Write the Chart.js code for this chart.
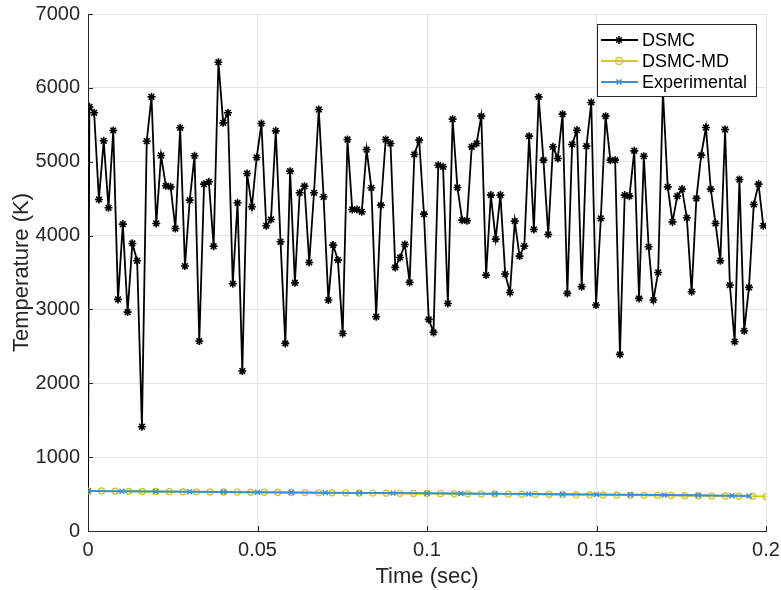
<!DOCTYPE html>
<html>
<head>
<meta charset="utf-8">
<script src="https://cdn.jsdelivr.net/npm/chart.js@4.4.1/dist/chart.umd.min.js"></script>
<style>
  html, body { margin: 0; padding: 0; background: #ffffff; }
  #wrap { width: 781px; height: 590px; }
</style>
</head>
<body>
<div id="wrap"><canvas id="c" width="781" height="590"></canvas></div>
<script>
// DSMC temperature history (K); first entry is the initial state at t = 0
const dsmcTemps = [
  540,
  5743, 5662, 4489, 5283, 4376, 5423, 3136, 4155, 2964, 3893,
  3659, 1412, 5278, 5878, 4164, 5084, 4674, 4660, 4096, 5459,
  3587, 4480, 5080, 2572, 4696, 4728, 3857, 6347, 5526, 5662,
  3348, 4444, 2166, 4841, 4390, 5057, 5517, 4132, 4218, 5418,
  3916, 2540, 4872, 3361, 4579, 4669, 3636, 4579, 5707, 4525,
  3127, 3871, 3668, 2675, 5301, 4353, 4353, 4322, 5165, 4647,
  2901, 4412, 5301, 5247, 3569, 3704, 3880, 3366, 5098, 5292,
  4290, 2865, 2689, 4953, 4931, 3081, 5576, 4651, 4209, 4200,
  5202, 5247, 5617, 3465, 4548, 3952, 4548, 3479, 3230, 4196,
  3722, 3857, 5346, 4083, 5878, 5021, 4015, 5202, 5044, 5644,
  3217, 5234, 5427, 3307, 5211, 5802, 3059, 4232, 5617, 5021,
  5021, 2391, 4548, 4534, 5147, 3149, 5075, 3848, 3127, 3501,
  5950, 4660, 4186, 4534, 4629, 4241, 3240, 4503, 5089, 5463,
  4629, 4164, 3659, 5436, 3330, 2563, 4759, 2711, 3298, 4421,
  4696, 4132
];
// sampling of the DSMC record after the initial state (s)
const dsmcFirstTime = 0.0004;
const dsmcTimeStep = 0.00141;

// DSMC-MD coupled result
const mdTimes = [
  0, 0.004, 0.008, 0.012, 0.016, 0.02, 0.024, 0.028, 0.032, 0.036,
  0.04, 0.044, 0.048, 0.052, 0.056, 0.06, 0.064, 0.068, 0.072, 0.076,
  0.08, 0.084, 0.088, 0.092, 0.096, 0.1, 0.104, 0.108, 0.112, 0.116,
  0.12, 0.124, 0.128, 0.132, 0.136, 0.14, 0.144, 0.148, 0.152, 0.156,
  0.16, 0.164, 0.168, 0.172, 0.176, 0.18, 0.184, 0.188, 0.192, 0.196, 0.2
];
const mdTemps = [
  540, 541, 538, 537, 535, 536, 533, 531, 530, 529,
  528, 526, 525, 524, 522, 521, 520, 519, 517, 516,
  515, 513, 512, 510, 509, 508, 506, 505, 503, 502,
  500, 499, 497, 496, 494, 493, 491, 490, 488, 487,
  485, 483, 482, 480, 478, 477, 475, 473, 471, 470, 468
];

// Experimental measurements
const expTimes = [
  0, 0.01, 0.02, 0.03, 0.04, 0.05, 0.06, 0.07, 0.08, 0.09,
  0.1, 0.11, 0.12, 0.13, 0.14, 0.15, 0.16, 0.17, 0.18, 0.19, 0.195
];
const expTemps = [
  540, 537, 534, 531, 528, 525, 522, 519, 516, 513,
  510, 507, 504, 500, 497, 494, 490, 487, 483, 478, 475
];

const xTickValues = [0, 0.05, 0.1, 0.15, 0.2];
const yTickValues = [0, 1000, 2000, 3000, 4000, 5000, 6000, 7000];

const seriesNames = ['DSMC', 'DSMC-MD', 'Experimental'];
const seriesColors = ['#000000', '#d4c92c', '#3b8fd9'];
const seriesMarkers = ['star', 'circle', 'crossRot'];
const seriesFills = ['#000000', 'rgba(0,0,0,0)', '#3b8fd9'];

const AXIS_COLOR = '#262626';
const GRID_COLOR = '#e4e4e4';
const FONT = '"Liberation Sans", Arial, Helvetica, sans-serif';

const dsmcPoints = dsmcTemps.map((t, i) => ({
  x: i === 0 ? 0 : dsmcFirstTime + (i - 1) * dsmcTimeStep,
  y: t
}));
const mdPoints = mdTimes.map((t, i) => ({ x: t, y: mdTemps[i] }));
const expPoints = expTimes.map((t, i) => ({ x: t, y: expTemps[i] }));

// inward tick marks on the left and bottom axes
const inwardTicks = {
  id: 'inwardTicks',
  afterDatasetsDraw(chart) {
    const { ctx, chartArea, scales } = chart;
    ctx.save();
    ctx.strokeStyle = AXIS_COLOR;
    ctx.lineWidth = 1;
    ctx.beginPath();
    yTickValues.forEach(v => {
      const y = Math.round(scales.y.getPixelForValue(v)) + 0.5;
      ctx.moveTo(chartArea.left, y);
      ctx.lineTo(chartArea.left + 5, y);
    });
    xTickValues.forEach(v => {
      const x = Math.round(scales.x.getPixelForValue(v)) + 0.5;
      ctx.moveTo(x, chartArea.bottom);
      ctx.lineTo(x, chartArea.bottom - 5);
    });
    ctx.stroke();
    ctx.restore();
  }
};

// boxed legend in the upper right corner of the plot
const boxLegend = {
  id: 'boxLegend',
  afterDraw(chart) {
    const { ctx, chartArea } = chart;
    const w = 159, h = 72;
    const x0 = chartArea.right - 10 - w;
    const y0 = chartArea.top + 10;
    ctx.save();
    ctx.fillStyle = '#ffffff';
    ctx.fillRect(x0, y0, w, h);
    ctx.strokeStyle = AXIS_COLOR;
    ctx.lineWidth = 1;
    ctx.strokeRect(Math.round(x0) + 0.5, Math.round(y0) + 0.5, w, h);
    ctx.font = '18px ' + FONT;
    ctx.textBaseline = 'middle';
    ctx.textAlign = 'left';
    seriesNames.forEach((name, i) => {
      const cy = y0 + 16 + i * 21;
      ctx.strokeStyle = seriesColors[i];
      ctx.lineWidth = 2;
      ctx.beginPath();
      ctx.moveTo(x0 + 4, cy);
      ctx.lineTo(x0 + 41, cy);
      ctx.stroke();
      ctx.lineWidth = 1.5;
      ctx.fillStyle = seriesFills[i];
      Chart.helpers.drawPoint(ctx, {
        pointStyle: seriesMarkers[i],
        radius: i === 0 ? 4 : 3.5,
        rotation: 0,
        borderWidth: 1.5
      }, x0 + 22, cy);
      ctx.fillStyle = '#000000';
      ctx.fillText(name, x0 + 45, cy + 1);
    });
    ctx.restore();
  }
};

new Chart(document.getElementById('c'), {
  type: 'line',
  data: {
    datasets: [
      {
        label: seriesNames[0],
        data: dsmcPoints,
        borderColor: seriesColors[0],
        backgroundColor: seriesFills[0],
        borderWidth: 1.8,
        pointStyle: seriesMarkers[0],
        pointRadius: 4,
        pointBorderWidth: 1.6,
        tension: 0,
        order: 3
      },
      {
        label: seriesNames[1],
        data: mdPoints,
        borderColor: seriesColors[1],
        backgroundColor: seriesFills[1],
        borderWidth: 2,
        pointStyle: seriesMarkers[1],
        pointRadius: 3,
        pointBorderWidth: 1.4,
        tension: 0,
        order: 2
      },
      {
        label: seriesNames[2],
        data: expPoints,
        borderColor: seriesColors[2],
        backgroundColor: seriesFills[2],
        borderWidth: 2,
        pointStyle: seriesMarkers[2],
        pointRadius: 3.5,
        pointBorderWidth: 1.4,
        tension: 0,
        order: 1
      }
    ]
  },
  options: {
    responsive: false,
    animation: false,
    devicePixelRatio: 1,
    layout: { padding: 0 },
    plugins: {
      legend: { display: false },
      tooltip: { enabled: false }
    },
    scales: {
      x: {
        type: 'linear',
        min: 0,
        max: 0.2,
        afterBuildTicks(scale) { scale.ticks = xTickValues.map(v => ({ value: v })); },
        afterFit(scale) {
          scale.height = 59;
          scale.paddingLeft = 0;
          scale.paddingRight = 15;
        },
        ticks: {
          color: AXIS_COLOR,
          font: { family: FONT, size: 20 },
          padding: 7,
          maxRotation: 0,
          callback: v => String(Number(v.toFixed(3)))
        },
        grid: { color: GRID_COLOR, lineWidth: 1, drawTicks: false },
        border: { display: true, color: AXIS_COLOR, width: 1 },
        title: {
          display: true,
          text: 'Time (sec)',
          color: AXIS_COLOR,
          font: { family: FONT, size: 22, lineHeight: 1.2 },
          padding: { top: 0, bottom: 0 }
        }
      },
      y: {
        type: 'linear',
        min: 0,
        max: 7000,
        afterBuildTicks(scale) { scale.ticks = yTickValues.map(v => ({ value: v })); },
        afterFit(scale) {
          scale.width = 88;
          scale.paddingTop = 14;
          scale.paddingBottom = 0;
        },
        ticks: {
          color: AXIS_COLOR,
          font: { family: FONT, size: 20 },
          padding: 8,
          callback: v => String(v)
        },
        grid: { color: GRID_COLOR, lineWidth: 1, drawTicks: false },
        border: { display: true, color: AXIS_COLOR, width: 1 },
        title: {
          display: true,
          text: 'Temperature (K)',
          color: AXIS_COLOR,
          font: { family: FONT, size: 22, lineHeight: 1.2 },
          padding: { top: 9, bottom: 0 }
        }
      }
    }
  },
  plugins: [inwardTicks, boxLegend]
});
</script>
</body>
</html>
